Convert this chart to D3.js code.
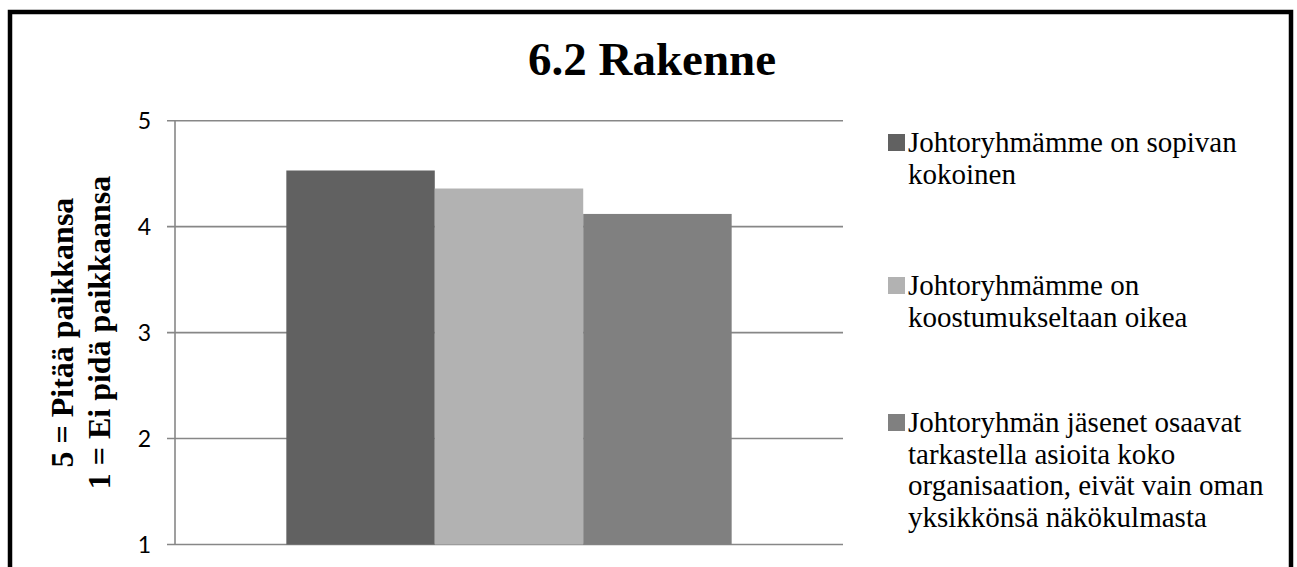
<!DOCTYPE html>
<html>
<head>
<meta charset="utf-8">
<script src="https://cdn.jsdelivr.net/npm/d3@7"></script>
<style>
  html, body { margin: 0; padding: 0; background: #fff; }
  svg { display: block; }
</style>
</head>
<body>
<div id="chart"></div>
<script>
// Chart data
const chartTitle = "6.2 Rakenne";
const seriesNames = [
  "Johtoryhmämme on sopivan kokoinen",
  "Johtoryhmämme on koostumukseltaan oikea",
  "Johtoryhmän jäsenet osaavat tarkastella asioita koko organisaation, eivät vain oman yksikkönsä näkökulmasta"
];
const legendLines = [
  ["Johtoryhmämme on sopivan", "kokoinen"],
  ["Johtoryhmämme on", "koostumukseltaan oikea"],
  ["Johtoryhmän jäsenet osaavat", "tarkastella asioita koko", "organisaation, eivät vain oman", "yksikkönsä näkökulmasta"]
];
const seriesValues = [4.53, 4.36, 4.12];
const seriesColors = ["#616161", "#b2b2b2", "#808080"];
const yTicks = [1, 2, 3, 4, 5];
const yTitleLines = ["5 = Pitää paikkansa", "1 = Ei pidä paikkaansa"];

const W = 1297, H = 567;
const plot = { left: 175, right: 843, top: 120.7, bottom: 544.5 };
const serif = "'Liberation Serif', 'Times New Roman', Times, serif";

const svg = d3.select("#chart").append("svg")
  .attr("width", W).attr("height", H);

svg.append("rect").attr("width", W).attr("height", H).attr("fill", "#fff");

// Outer frame
svg.append("rect")
  .attr("x", 10).attr("y", 12)
  .attr("width", 1281).attr("height", 600)
  .attr("fill", "none").attr("stroke", "#000").attr("stroke-width", 4.5);

// Title
svg.append("text")
  .attr("x", 652).attr("y", 75)
  .attr("text-anchor", "middle")
  .style("font-family", serif)
  .attr("font-weight", "bold")
  .attr("font-size", 47)
  .attr("fill", "#000")
  .text(chartTitle);

// Scales
const y = d3.scaleLinear().domain([1, 5]).range([plot.bottom, plot.top]);
const x = d3.scaleBand().domain(seriesNames)
  .range([plot.left, plot.right])
  .paddingInner(0)
  .paddingOuter(0.75);

// Gridlines
svg.append("g").selectAll("line")
  .data(yTicks)
  .join("line")
  .attr("x1", plot.left - 8).attr("x2", plot.right)
  .attr("y1", d => y(d)).attr("y2", d => y(d))
  .attr("stroke", "#878787").attr("stroke-width", 1.6);

// Y axis line
svg.append("line")
  .attr("x1", plot.left).attr("x2", plot.left)
  .attr("y1", plot.top).attr("y2", plot.bottom)
  .attr("stroke", "#878787").attr("stroke-width", 1.6);

// Tick labels
svg.append("g").selectAll("text")
  .data(yTicks)
  .join("text")
  .attr("x", 151).attr("y", d => y(d))
  .attr("dy", "0.36em")
  .attr("text-anchor", "end")
  .style("font-family", "Lato, 'Liberation Sans', sans-serif")
  .attr("font-size", 23)
  .attr("fill", "#000")
  .text(d => d);

// Bars
svg.append("g").selectAll("rect")
  .data(seriesNames)
  .join("rect")
  .attr("x", d => x(d))
  .attr("width", x.bandwidth())
  .attr("y", (d, i) => y(seriesValues[i]))
  .attr("height", (d, i) => y(1) - y(seriesValues[i]))
  .attr("fill", (d, i) => seriesColors[i]);

// Y axis title (two rotated lines)
const cy = (plot.top + plot.bottom) / 2;
const yTitle = svg.append("text")
  .attr("transform", `translate(0,${cy}) rotate(-90)`)
  .attr("text-anchor", "middle")
  .style("font-family", serif)
  .attr("font-weight", "bold")
  .attr("font-size", 32)
  .attr("fill", "#000");
yTitle.selectAll("tspan")
  .data(yTitleLines)
  .join("tspan")
  .attr("x", 0)
  .attr("y", (d, i) => 73 + i * 37)
  .text(d => d);

// Legend
const legendFirstBaseline = [152, 295, 432];
const lineH = 31.5;
const legend = svg.append("g");
legendLines.forEach((lines, i) => {
  const b = legendFirstBaseline[i];
  legend.append("rect")
    .attr("x", 888).attr("y", b - 18)
    .attr("width", 17).attr("height", 17)
    .attr("fill", seriesColors[i]);
  const t = legend.append("text")
    .style("font-family", serif)
    .attr("font-size", 29)
    .attr("fill", "#000");
  t.selectAll("tspan")
    .data(lines)
    .join("tspan")
    .attr("x", 908)
    .attr("y", (d, j) => b + j * lineH)
    .text(d => d);
});
</script>
</body>
</html>
